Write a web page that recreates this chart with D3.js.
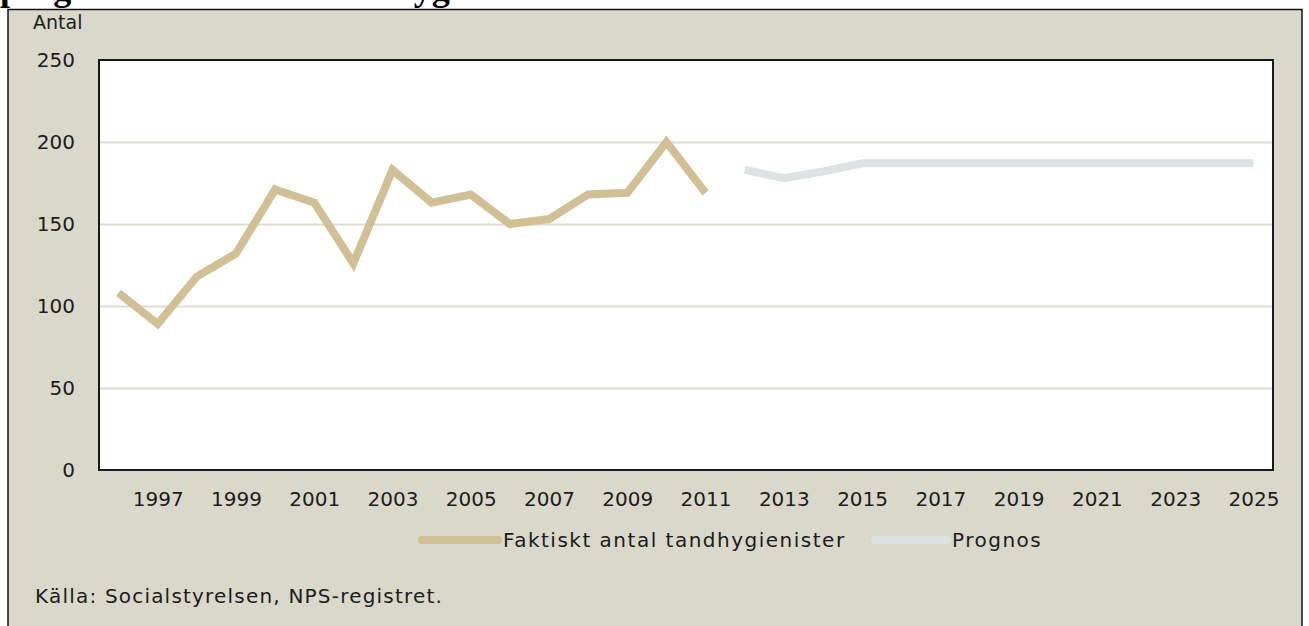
<!DOCTYPE html>
<html>
<head>
<meta charset="utf-8">
<script src="https://cdn.jsdelivr.net/npm/d3@7"></script>
<style>
    body { margin: 0; background: #fff; }
    text { font-family: "DejaVu Sans", sans-serif; fill: #1c1c1c; }
    .axis path, .axis line { display: none; }
    .grid line { stroke: #dedbd0; stroke-width: 2; }
    .grid path { display: none; }
</style>
</head>
<body>
<div id="chart"></div>
<script>
// data
var years = d3.range(1996, 2026);
var actualYears = d3.range(1996, 2012);
var actualValues = [108, 89, 118, 132, 171, 163, 126, 183, 163, 168, 150, 153, 168, 169, 200, 169];
var forecastYears = d3.range(2012, 2026);
var forecastValues = [183, 178, 182, 187, 187, 187, 187, 187, 187, 187, 187, 187, 187, 187];
var yTicks = [0, 50, 100, 150, 200, 250];
var xTickYears = d3.range(1997, 2026, 2);
var seriesNames = ["Faktiskt antal tandhygienister", "Prognos"];
var seriesColors = ["#d1c096", "#dde3e3"];

function init(){
    var w = 1309;
    var h = 626;
    var left = 99, right = 1273, top = 60, bottom = 470;

    var svg = d3.select("#chart")
                .append("svg")
                .attr("width", w)
                .attr("height", h);

    // title, only its descenders show at the top of the picture
    svg.append("text")
        .attr("x", 0)
        .attr("y", 0)
        .style("font-family", "'Liberation Serif', serif")
        .style("font-weight", "bold")
        .style("font-size", "36px")
        .style("fill", "#000")
        .text("prognos över antalet tandhygienister");

    //outer panel
    svg.append("rect")
        .attr("x", 8)
        .attr("y", 9.5)
        .attr("width", 1294)
        .attr("height", 640)
        .attr("fill", "#dad7cb")
        .attr("stroke", "#111")
        .attr("stroke-width", 1.5);

    //plot area
    svg.append("rect")
        .attr("x", left)
        .attr("y", top)
        .attr("width", right - left)
        .attr("height", bottom - top)
        .attr("fill", "#fff");

    var xScale = d3.scalePoint()
                .domain(years)
                .range([left, right])
                .padding(0.5);

    var yScale = d3.scaleLinear()
                .domain([0, 250])
                .range([bottom, top]);

    //gridlines
    svg.append("g")
        .attr("class", "grid")
        .attr("transform", "translate(" + left + ",0)")
        .call(d3.axisLeft(yScale).tickValues(yTicks.slice(1, -1)).tickSize(-(right - left)).tickFormat(""));

    var line = d3.line()
                .x(function(d) { return xScale(d.year); })
                .y(function(d) { return yScale(d.value); });

    var actual = actualYears.map(function(y, i) { return {year: y, value: actualValues[i]}; });
    var forecast = forecastYears.map(function(y, i) { return {year: y, value: forecastValues[i]}; });

    //lines
    [actual, forecast].forEach(function(data, i) {
        svg.append("path")
            .datum(data)
            .attr("fill", "none")
            .attr("stroke", seriesColors[i])
            .attr("stroke-width", 8)
            .attr("stroke-linejoin", "miter")
            .attr("d", line);
    });

    //frame
    svg.append("rect")
        .attr("x", left)
        .attr("y", top)
        .attr("width", right - left)
        .attr("height", bottom - top)
        .attr("fill", "none")
        .attr("stroke", "#1a1a1a")
        .attr("stroke-width", 2);

    //axes
    var yAxis = svg.append("g")
        .attr("class", "axis")
        .attr("transform", "translate(" + left + ",0)")
        .call(d3.axisLeft(yScale).tickValues(yTicks).tickSize(0).tickPadding(24));
    yAxis.selectAll("text").style("font-size", "20px");

    var xAxis = svg.append("g")
        .attr("class", "axis")
        .attr("transform", "translate(0," + bottom + ")")
        .call(d3.axisBottom(xScale).tickValues(xTickYears).tickSize(0).tickPadding(22));
    xAxis.selectAll("text").style("font-size", "20px");

    svg.append("text")
        .attr("x", 33)
        .attr("y", 29)
        .style("font-size", "19px")
        .text("Antal");

    //legend
    var legendX = [422, 875];
    var legendW = [76, 72];
    seriesNames.forEach(function(name, i) {
        svg.append("line")
            .attr("x1", legendX[i])
            .attr("x2", legendX[i] + legendW[i])
            .attr("y1", 540)
            .attr("y2", 540)
            .attr("stroke", seriesColors[i])
            .attr("stroke-width", 8)
            .attr("stroke-linecap", "round");
        svg.append("text")
            .attr("x", legendX[i] + legendW[i] + 5)
            .attr("y", 547)
            .style("font-size", "20px")
            .style("letter-spacing", "1.5px")
            .text(name);
    });

    svg.append("text")
        .attr("x", 35)
        .attr("y", 603)
        .style("font-size", "20px")
        .style("letter-spacing", "1.2px")
        .text("Källa: Socialstyrelsen, NPS-registret.");
}
window.onload = init;
</script>
</body>
</html>
